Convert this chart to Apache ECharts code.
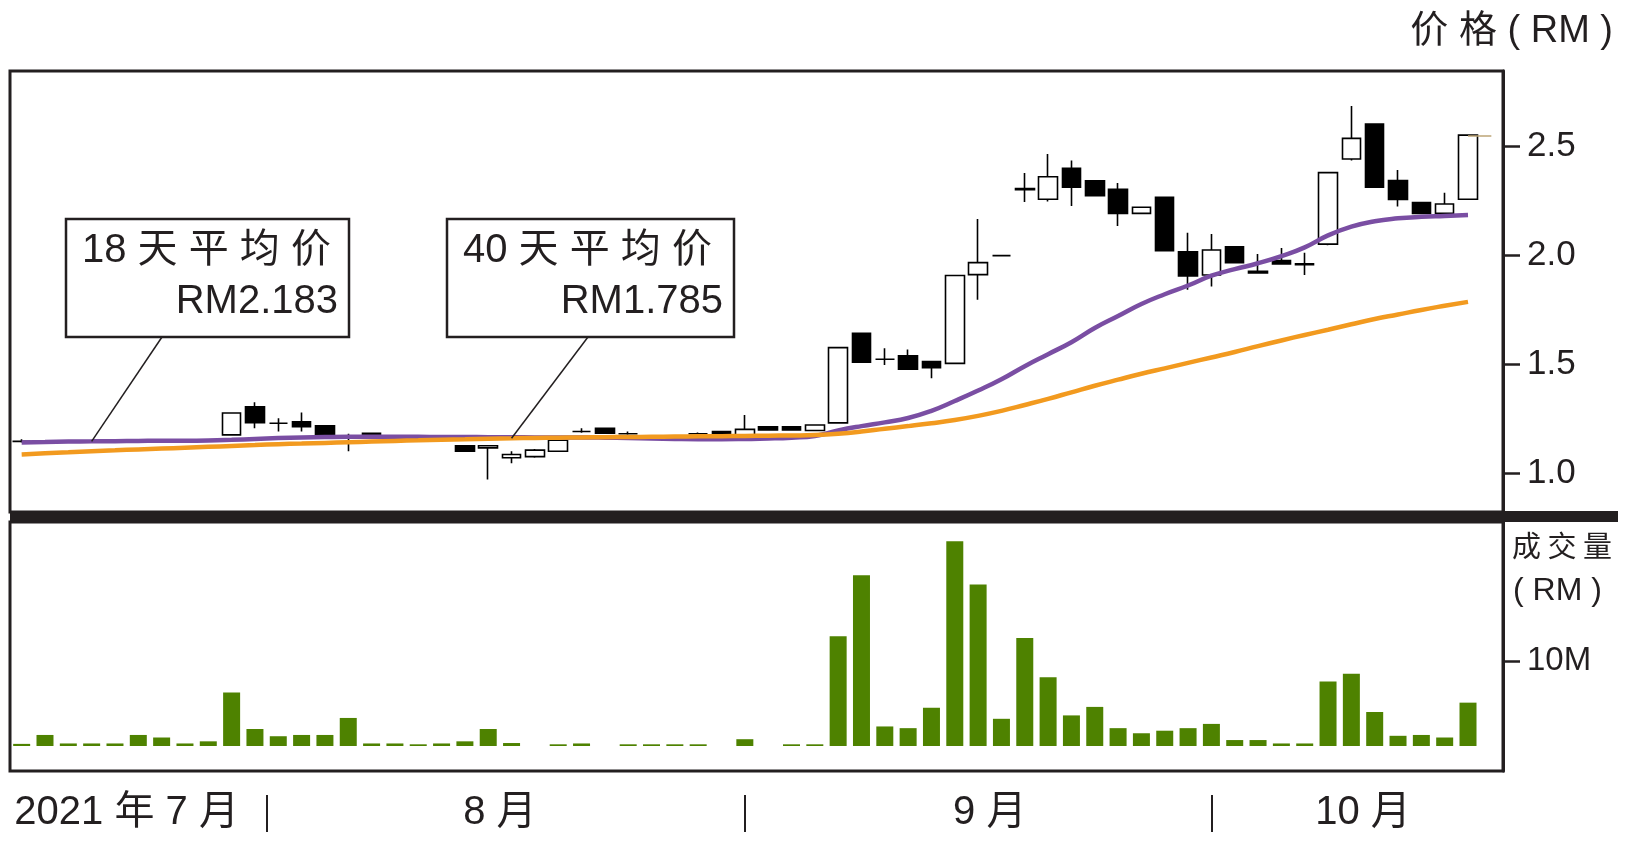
<!DOCTYPE html>
<html>
<head>
<meta charset="utf-8">
<script src="https://cdn.jsdelivr.net/npm/echarts@6.0.0/dist/echarts.min.js"></script>
<style>
html, body { margin: 0; padding: 0; background: #fff; }
#container { width: 1633px; height: 841px; }
</style>
</head>
<body>
<div id="container"></div>
<script>
// daily candles: [open, close, low, high] in RM
var candles = [
    [1.145, 1.145, 1.140, 1.155], [1.143, 1.143, 1.140, 1.146], [1.145, 1.145, 1.142, 1.148],
    [1.146, 1.146, 1.143, 1.149], [1.147, 1.147, 1.144, 1.150], [1.148, 1.148, 1.145, 1.151],
    [1.149, 1.149, 1.146, 1.152], [1.149, 1.149, 1.146, 1.152], [1.150, 1.150, 1.147, 1.153],
    [1.175, 1.275, 1.175, 1.275], [1.304, 1.231, 1.205, 1.324], [1.228, 1.228, 1.190, 1.251],
    [1.235, 1.212, 1.190, 1.277], [1.216, 1.174, 1.174, 1.216], [1.170, 1.170, 1.100, 1.180],
    [1.182, 1.159, 1.159, 1.182], [1.162, 1.162, 1.155, 1.170], [1.166, 1.166, 1.163, 1.169],
    [1.165, 1.165, 1.162, 1.168], [1.125, 1.100, 1.100, 1.125], [1.115, 1.125, 0.970, 1.125],
    [1.070, 1.085, 1.045, 1.100], [1.075, 1.105, 1.070, 1.110], [1.100, 1.150, 1.100, 1.150],
    [1.190, 1.190, 1.185, 1.205], [1.205, 1.182, 1.182, 1.205], [1.180, 1.180, 1.175, 1.190],
    [1.160, 1.160, 1.157, 1.163], [1.158, 1.158, 1.155, 1.161], [1.180, 1.180, 1.176, 1.186],
    [1.190, 1.174, 1.174, 1.190], [1.174, 1.200, 1.174, 1.266], [1.212, 1.197, 1.197, 1.212],
    [1.212, 1.197, 1.197, 1.212], [1.195, 1.220, 1.195, 1.220], [1.230, 1.575, 1.230, 1.575],
    [1.641, 1.508, 1.508, 1.641], [1.522, 1.522, 1.495, 1.572], [1.537, 1.476, 1.476, 1.567],
    [1.511, 1.483, 1.434, 1.511], [1.503, 1.906, 1.503, 1.906], [1.910, 1.965, 1.795, 2.165],
    [1.997, 1.997, 1.995, 2.000], [2.300, 2.305, 2.243, 2.376], [2.256, 2.359, 2.245, 2.463],
    [2.398, 2.311, 2.225, 2.433], [2.340, 2.272, 2.272, 2.340], [2.301, 2.191, 2.133, 2.330],
    [2.191, 2.219, 2.191, 2.219], [2.265, 2.020, 2.020, 2.265], [2.015, 1.904, 1.840, 2.102],
    [1.908, 2.023, 1.855, 2.096], [2.038, 1.965, 1.965, 2.038], [1.925, 1.918, 1.918, 2.005],
    [1.974, 1.959, 1.959, 2.032], [1.955, 1.960, 1.908, 2.010], [2.050, 2.378, 2.045, 2.378],
    [2.440, 2.535, 2.433, 2.683], [2.601, 2.311, 2.311, 2.601], [2.341, 2.255, 2.222, 2.390],
    [2.240, 2.191, 2.191, 2.240], [2.191, 2.234, 2.191, 2.286], [2.256, 2.550, 2.256, 2.550]
];

// 18 day average (purple)
var ma18 = [
    1.140, 1.142, 1.144, 1.145, 1.146, 1.147, 1.148, 1.148, 1.149, 1.152,
    1.156, 1.160, 1.163, 1.165, 1.166, 1.166, 1.166, 1.166, 1.165, 1.165,
    1.164, 1.164, 1.163, 1.163, 1.163, 1.162, 1.160, 1.158, 1.156, 1.155,
    1.155, 1.156, 1.158, 1.162, 1.170, 1.195, 1.215, 1.232, 1.252, 1.285,
    1.330, 1.378, 1.430, 1.490, 1.545, 1.600, 1.665, 1.720, 1.775, 1.820,
    1.860, 1.905, 1.935, 1.962, 1.995, 2.035, 2.090, 2.130, 2.155, 2.168,
    2.175, 2.179, 2.183
];

// 40 day average (orange)
var ma40 = [
    1.085, 1.090, 1.095, 1.100, 1.104, 1.108, 1.112, 1.116, 1.120, 1.124,
    1.128, 1.132, 1.135, 1.138, 1.141, 1.144, 1.147, 1.150, 1.153, 1.155,
    1.157, 1.159, 1.161, 1.162, 1.163, 1.164, 1.165, 1.166, 1.167, 1.168,
    1.169, 1.170, 1.171, 1.172, 1.174, 1.180, 1.190, 1.203, 1.215, 1.228,
    1.243, 1.262, 1.285, 1.312, 1.340, 1.370, 1.400, 1.428, 1.455, 1.480,
    1.505, 1.530, 1.555, 1.582, 1.608, 1.633, 1.657, 1.682, 1.706, 1.727,
    1.748, 1.767, 1.785
];

// traded value, RM million
var volume = [
    0.25, 1.3, 0.3, 0.3, 0.3, 1.3, 1.0, 0.3, 0.55, 6.3,
    2.0, 1.15, 1.3, 1.3, 3.3, 0.3, 0.3, 0.2, 0.3, 0.55,
    2.0, 0.35, 0, 0.2, 0.3, 0, 0.2, 0.2, 0.2, 0.2,
    0, 0.8, 0, 0.2, 0.2, 12.9, 20.1, 2.3, 2.1, 4.5,
    24.1, 19.0, 3.2, 12.7, 8.1, 3.6, 4.6, 2.1, 1.5, 1.8,
    2.1, 2.6, 0.7, 0.7, 0.3, 0.3, 7.6, 8.5, 4.0, 1.2,
    1.3, 1.0, 5.1
];

var priceTicks = [1.0, 1.5, 2.0, 2.5];
var volumeTicks = [10];
var monthLabels = ['2021 年 7 月', '8 月', '9 月', '10 月'];
var monthLabelAt = [5, 21, 42, 58];       // in day slots from the left edge
var monthBreaks = [11, 31.5, 51.5];
var lastPrice = 2.545;
var notes = [
    { title: '18 天 平 均 价', value: 'RM2.183', line: ma18, at: 3 },
    { title: '40 天 平 均 价', value: 'RM1.785', line: ma40, at: 21 }
];

// one spare slot at the right end
var days = [];
for (var i = 0; i <= candles.length; i++) days.push('d' + (i + 1));

var ink = '#231f20';
var numFont = '"Liberation Sans", Arial, "Noto Sans CJK SC", sans-serif';

var boxes = [
    { x: 66, y: 219, w: 283, h: 118 },
    { x: 447, y: 219, w: 287, h: 118 }
];

var graphics = [
    { type: 'rect', id: 'sep', shape: { x: 10, y: 511, width: 1608, height: 11 }, style: { fill: ink }, z: 50 },
    { type: 'text', id: 'ptitle', x: 1613, y: 32, style: { text: '价 格 ( RM )', font: '38px ' + numFont, fill: ink, textAlign: 'right', textVerticalAlign: 'middle' } },
    { type: 'text', id: 'vtitle1', x: 1512, y: 546, style: { text: '成 交 量', font: '29px "Noto Sans CJK SC", sans-serif', fill: ink, textAlign: 'left', textVerticalAlign: 'middle' } },
    { type: 'text', id: 'vtitle2', x: 1513, y: 591, style: { text: '( RM )', font: '32px ' + numFont, fill: ink, textAlign: 'left', textVerticalAlign: 'middle' } }
];
notes.forEach(function (n, k) {
    var b = boxes[k];
    graphics.push({
        type: 'group', id: 'note' + k, z: 60,
        children: [
            { type: 'rect', shape: { x: b.x, y: b.y, width: b.w, height: b.h }, style: { fill: '#fff', stroke: ink, lineWidth: 2.5 } },
            { type: 'text', x: b.x + 16, y: b.y + 32, style: { text: n.title, font: '40px ' + numFont, fill: ink, textVerticalAlign: 'middle' } },
            { type: 'text', x: b.x + b.w - 11, y: b.y + 83, style: { text: n.value, font: '40px ' + numFont, fill: ink, textAlign: 'right', textVerticalAlign: 'middle' } }
        ]
    });
});

var myChart = echarts.init(document.getElementById('container'));
var option = {
    backgroundColor: '#fff',
    animation: false,
    grid: [
        { left: 10, top: 71, width: 1493, height: 441, show: true, borderColor: ink, borderWidth: 3 },
        { left: 10, top: 522, width: 1493, height: 249, show: true, borderColor: ink, borderWidth: 3 }
    ],
    xAxis: [
        { gridIndex: 0, type: 'category', data: days, boundaryGap: true,
          axisLine: { show: false, onZero: false }, axisTick: { show: false }, axisLabel: { show: false } },
        { gridIndex: 1, type: 'category', data: days, boundaryGap: true,
          axisLine: { show: false, onZero: false }, axisTick: { show: false }, axisLabel: { show: false } },
        // month names, measured in day slots
        { gridIndex: 1, type: 'value', min: 0, max: days.length, position: 'bottom',
          splitLine: { show: false }, axisLine: { show: false, onZero: false }, axisTick: { show: false },
          axisLabel: {
              customValues: monthLabelAt, margin: 22, color: ink, fontSize: 40, fontFamily: numFont,
              formatter: function (v) {
                  var k = monthLabelAt.indexOf(v);
                  return k >= 0 ? monthLabels[k] : '';
              }
          } },
        // month dividers under the panel
        { gridIndex: 1, type: 'value', min: 0, max: days.length, position: 'bottom', offset: 24,
          splitLine: { show: false }, axisLine: { show: false, onZero: false }, axisLabel: { show: false },
          axisTick: { show: true, customValues: monthBreaks, length: 37, lineStyle: { color: ink, width: 2 } } }
    ],
    yAxis: [
        { gridIndex: 0, type: 'value', position: 'right', min: 0.821, max: 2.844,
          splitLine: { show: false },
          axisLine: { show: true, onZero: false, lineStyle: { color: ink, width: 3 } },
          axisTick: { show: true, length: 17, lineStyle: { color: ink, width: 2.5 }, customValues: priceTicks },
          axisLabel: { customValues: priceTicks, margin: 24, color: ink, fontSize: 35, fontFamily: numFont,
                       formatter: function (v) { return v.toFixed(1); } } },
        { gridIndex: 1, type: 'value', position: 'right', min: -2.94, max: 26.35,
          splitLine: { show: false },
          axisLine: { show: true, onZero: false, lineStyle: { color: ink, width: 3 } },
          axisTick: { show: true, length: 17, lineStyle: { color: ink, width: 2.5 }, customValues: volumeTicks },
          axisLabel: { customValues: volumeTicks, margin: 24, color: ink, fontSize: 33, fontFamily: numFont,
                       formatter: function (v) { return v + 'M'; } } }
    ],
    series: [
        {
            name: 'K', type: 'candlestick', xAxisIndex: 0, yAxisIndex: 0,
            data: candles, barWidth: 19,
            itemStyle: { color: '#fff', color0: '#000', borderColor: '#000', borderColor0: '#000', borderWidth: 1.6 },
            markLine: {
                silent: true, symbol: 'none', animation: false,
                label: { show: false },
                lineStyle: { color: '#bda576', width: 1.5, type: 'solid' },
                data: [[{ coord: [days[candles.length - 1], lastPrice] }, { coord: [days[candles.length], lastPrice] }]]
            }
        },
        {
            name: 'MA18', type: 'line', xAxisIndex: 0, yAxisIndex: 0, data: ma18,
            symbol: 'none', smooth: true, z: 3,
            lineStyle: { color: '#7a4ea3', width: 4.5 }
        },
        {
            name: 'MA40', type: 'line', xAxisIndex: 0, yAxisIndex: 0, data: ma40,
            symbol: 'none', smooth: true, z: 4,
            lineStyle: { color: '#f29a1f', width: 4.5 }
        },
        {
            name: 'VOL', type: 'bar', xAxisIndex: 1, yAxisIndex: 1, data: volume,
            barWidth: 17, itemStyle: { color: '#4e8200' }
        }
    ],
    graphic: graphics
};
myChart.setOption(option);

// leader lines from each note box down to its average line
var leaders = [];
notes.forEach(function (n, k) {
    var b = boxes[k];
    var p = myChart.convertToPixel({ gridIndex: 0 }, [n.at, n.line[n.at]]);
    var topX = k === 0 ? b.x + 96 : b.x + 141;
    leaders.push({
        type: 'line', id: 'lead' + k, z: 55,
        shape: { x1: topX, y1: b.y + b.h, x2: p[0], y2: p[1] },
        style: { stroke: ink, lineWidth: 1.5 }
    });
});
myChart.setOption({ graphic: leaders });
</script>
</body>
</html>
